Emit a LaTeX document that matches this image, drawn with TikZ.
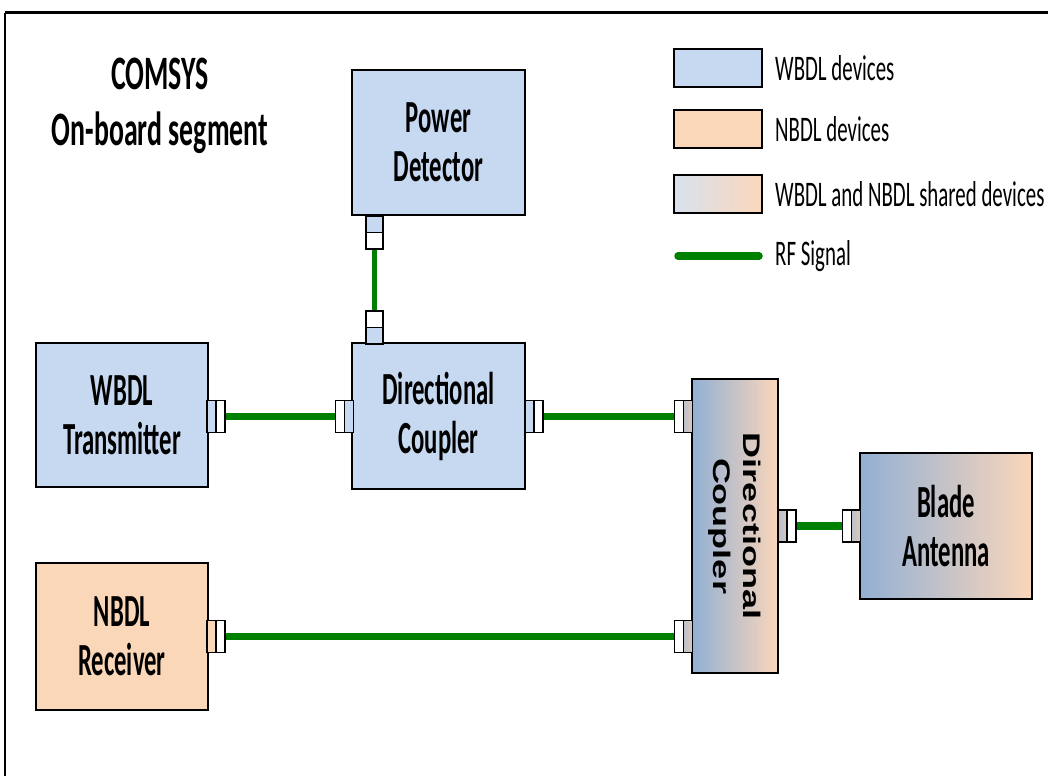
\documentclass[tikz,border=0pt]{standalone}
\usepackage{fontspec}
\setmainfont{Carlito}[FakeStretch=0.58]
\newfontfamily\boxfam{Carlito}[FakeStretch=0.537]
\newfontfamily\titlefam{Carlito}[FakeStretch=0.58]
\newfontfamily\arialfont{Liberation Sans}[FakeStretch=1.5]
\definecolor{wbdl}{RGB}{198,217,240}
\definecolor{nbdl}{RGB}{251,215,185}
\definecolor{shL}{RGB}{146,176,212}
\definecolor{shR}{RGB}{250,214,186}
\definecolor{lgL}{RGB}{216,226,238}
\definecolor{rfgreen}{RGB}{0,128,0}
\newcommand\boxfnt{\boxfam\bfseries\fontsize{46}{49}\selectfont}
\newcommand\legfnt{\fontsize{36}{38}\selectfont}
\newcommand\vcfnt{\arialfont\bfseries\fontsize{24}{30}\selectfont}
\tikzset{
  box/.style={draw=black, line width=2.6pt, inner sep=0pt, align=center, font=\boxfnt, text=black},
  port/.style={draw=black, line width=1.8pt, fill=white, inner sep=0pt, minimum width=18pt, minimum height=32pt},
  vport/.style={port, minimum width=17pt, minimum height=33pt},
  inW/.style={path picture={\path[#1] (path picture bounding box.south west) rectangle (path picture bounding box.north);
      \draw[line width=1.8pt] (path picture bounding box.south) -- (path picture bounding box.north);}},
  inE/.style={path picture={\path[#1] (path picture bounding box.south) rectangle (path picture bounding box.north east);
      \draw[line width=1.8pt] (path picture bounding box.south) -- (path picture bounding box.north);}},
  inN/.style={path picture={\path[#1] (path picture bounding box.west) rectangle (path picture bounding box.north east);
      \draw[line width=1.8pt] (path picture bounding box.west) -- (path picture bounding box.east);}},
  inS/.style={path picture={\path[#1] (path picture bounding box.south west) rectangle (path picture bounding box.east);
      \draw[line width=1.8pt] (path picture bounding box.west) -- (path picture bounding box.east);}},
  rf/.style={draw=rfgreen, line width=7.5pt},
  rfthin/.style={draw=rfgreen, line width=4.5pt},
  legbox/.style={draw=black, line width=2.4pt, minimum width=88pt, minimum height=38pt, inner sep=0pt},
  legtext/.style={anchor=west, font=\legfnt, inner sep=0pt},
}
\begin{document}
\begin{tikzpicture}[x=1pt,y=-1pt]
\useasboundingbox (0,0) rectangle (1048,776);
% frame
\draw[line width=3pt] (5,13) -- (1048,13);
\draw[line width=2pt] (5,13) -- (5,776);

% title
\node[align=center, font=\titlefam\bfseries\fontsize{48}{56}\selectfont] (title) at (160,106) {COMSYS\\On-board segment};

% devices
\node[box, fill=wbdl, minimum width=173pt, minimum height=145pt] (pd) at (438.5,142.5) {Power\\Detector};
\node[box, fill=wbdl, minimum width=172pt, minimum height=144pt] (tx) at (122,415) {WBDL\\Transmitter};
\node[box, fill=wbdl, minimum width=173pt, minimum height=146pt] (dc) at (438.5,416) {Directional\\Coupler};
\node[box, fill=nbdl, minimum width=172pt, minimum height=147pt] (rx) at (122,636.5) {NBDL\\Receiver};
\node[box, left color=shL, right color=shR, minimum width=86pt, minimum height=294pt] (vc) at (735,526) {};
\node[rotate=-90, align=center, font=\vcfnt, inner sep=0pt] (vct) at (vc.center) {Directional\\Coupler};
\node[box, left color=shL, right color=shR, minimum width=172pt, minimum height=146pt] (ba) at (946,526) {Blade\\Antenna};

% ports
\node[port, inW={fill=wbdl}] (txR) at (216,416.5) {};
\node[port, inE={fill=wbdl}] (dcL) at (344.5,416.5) {};
\node[port, inW={fill=wbdl}] (dcR) at (534,416.5) {};
\node[vport, inN={fill=wbdl}] (pdB) at (374.5,232.5) {};
\node[vport, inS={fill=wbdl}] (dcT) at (374.5,327.5) {};
\node[port, inW={fill=nbdl}] (rxR) at (216,636.5) {};
\node[port, inE={left color=shL!85!shR, right color=shR!70!shL}] (vcL1) at (683.5,416.5) {};
\node[port, inE={left color=shL!85!shR, right color=shR!70!shL}] (vcL2) at (683.5,636.5) {};
\node[port, inW={left color=shL!60!shR, right color=shR!80!shL}] (vcR) at (787,526) {};
\node[port, inE={left color=shL!85!shR, right color=shR!70!shL}] (baL) at (851.5,526) {};

% RF connections
\draw[rf] (txR.east) -- (dcL.west);
\draw[rf] (dcR.east) -- (vcL1.west);
\draw[rf] (rxR.east) -- (vcL2.west);
\draw[rf] (vcR.east) -- (baL.west);
\draw[rfthin] (pdB.south) -- (dcT.north);

% legend
\node[legbox, fill=wbdl] (lg1) at (718,68) {};
\node[legbox, fill=nbdl] (lg2) at (718,129) {};
\node[legbox, left color=lgL, right color=shR] (lg3) at (718,194) {};
\coordinate (lgA) at (678,256);
\coordinate (lgB) at (759,256);
\draw[rf, line cap=round] (lgA) -- (lgB);
\node[legtext] (lt1) at (775,68) {WBDL devices};
\node[legtext] (lt2) at (775,129) {NBDL devices};
\node[legtext] (lt3) at (775,194) {WBDL and NBDL shared devices};
\node[legtext] (lt4) at (775,256) {RF Signal};
\end{tikzpicture}
\end{document}
